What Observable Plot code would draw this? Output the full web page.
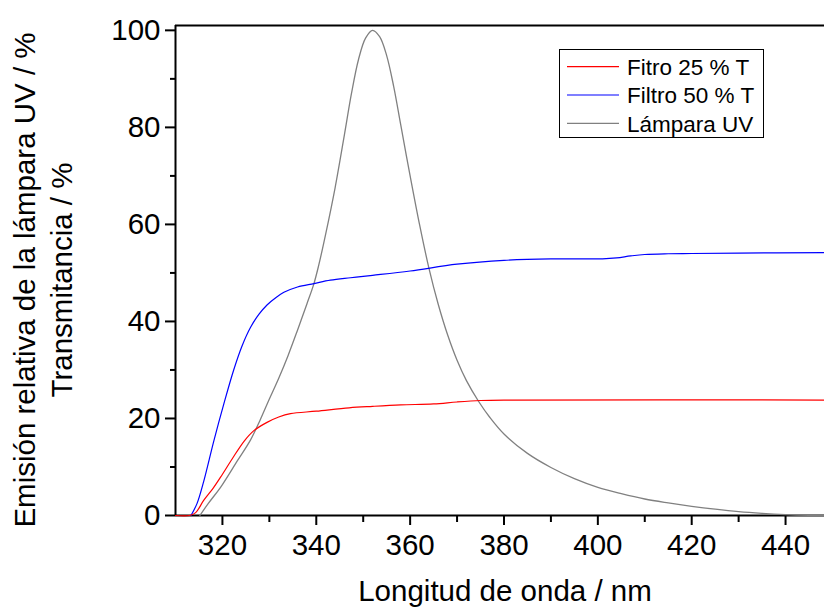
<!DOCTYPE html>
<html>
<head>
<meta charset="utf-8">
<script src="https://cdn.jsdelivr.net/npm/d3@7"></script>
<script src="https://cdn.jsdelivr.net/npm/@observablehq/plot@0.6"></script>
<style>
  html, body { margin: 0; padding: 0; background: #fff; }
  #chart svg { display: block; }
</style>
</head>
<body>
<div id="chart"></div>
<script>
// Wavelength (nm) / value (%) pairs
const redX  = [310, 313, 314.3, 316, 318, 319.6, 322.1, 324.6, 326.7, 329.5, 332, 334.5, 340, 347, 352, 358, 365, 370, 375, 380, 448.3];
const redY  = [0, 0, 0.6, 3.1, 5.6, 7.9, 11.7, 15.3, 17.5, 19.2, 20.3, 21, 21.5, 22.2, 22.5, 22.8, 23, 23.4, 23.7, 23.8, 23.8];

const blueX = [313.3, 314.6, 316, 318.2, 320.3, 322.4, 324.2, 326, 327.8, 329.5, 331.5, 333.1, 336, 339.5, 343, 347.3, 352, 360, 370, 380, 390, 401, 404, 407, 410, 415, 420, 430, 448.3];
const blueY = [0, 2.5, 7, 15.5, 23, 30, 35, 38.8, 41.5, 43.4, 45, 46, 47.1, 47.8, 48.5, 49, 49.5, 50.4, 51.8, 52.6, 52.9, 52.9, 53.1, 53.5, 53.8, 53.95, 54, 54.1, 54.2];

const grayX = [315.2, 317, 319.6, 323.2, 326, 328, 330, 332, 334, 336, 338, 339.5, 340.5, 342, 344, 346, 347.5, 349, 350.5, 352, 353.5, 355, 356.5, 358, 360, 362, 364, 366, 368, 370, 372, 374.6, 377, 380, 385, 390, 395, 400, 405, 410, 415, 420, 425, 430, 435, 440, 445, 448.3];
const grayY = [0, 2.5, 5.8, 11.3, 15.6, 19.6, 24, 28.3, 33, 38.2, 43.6, 47.8, 51.5, 58, 67.5, 78.5, 87, 94, 98.4, 100, 98.7, 94.8, 88.4, 80.5, 70, 60, 51, 43.5, 37.2, 32, 27.8, 23.5, 20.2, 16.8, 12.8, 9.9, 7.6, 5.8, 4.5, 3.4, 2.6, 1.9, 1.3, 0.8, 0.45, 0.2, 0.05, 0];

const seriesNames = ["Fitro 25 % T", "Filtro 50 % T", "Lámpara UV"];
const seriesColors = ["#ff0000", "#0000ff", "#808080"];

const xMajorTicks = [320, 340, 360, 380, 400, 420, 440];
const xMinorTicks = [330, 350, 370, 390, 410, 430];
const yMajorTicks = [0, 20, 40, 60, 80, 100];
const yMinorTicks = [10, 30, 50, 70, 90];

const xTitle = "Longitud de onda / nm";
const yTitle1 = "Emisión relativa de la lámpara UV / %";
const yTitle2 = "Transmitancia / %";

const toRows = (xs, ys) => xs.map((x, i) => ({x, y: ys[i]}));
const red = toRows(redX, redY);
const blue = toRows(blueX, blueY);
const gray = toRows(grayX, grayY);

const font = "'Liberation Sans', Arial, Helvetica, sans-serif";

const plot = Plot.plot({
  width: 824,
  height: 608,
  marginLeft: 175,
  marginRight: 0,
  marginTop: 25,
  marginBottom: 93,
  style: {fontFamily: font, background: "#fff", color: "#000", overflow: "visible"},
  x: {domain: [310, 448.3]},
  y: {domain: [0, 101]},
  marks: [
    Plot.ruleY([0], {stroke: "#000", strokeWidth: 2}),
    Plot.ruleX([310], {stroke: "#000", strokeWidth: 2}),
    Plot.ruleY([101], {stroke: "#000", strokeWidth: 2}),
    Plot.axisX({ticks: xMajorTicks, tickSize: 10, tickPadding: 9, fontSize: 29.5, strokeWidth: 2, label: null, tickFormat: d => String(d)}),
    Plot.axisX({ticks: xMinorTicks, tickSize: 7, strokeWidth: 2, text: null, label: null}),
    Plot.axisY({ticks: yMajorTicks, tickSize: 10, tickPadding: 5, fontSize: 29.5, strokeWidth: 2, label: null, tickFormat: d => String(d)}),
    Plot.axisY({ticks: yMinorTicks, tickSize: 5, strokeWidth: 2, text: null, label: null}),
    Plot.line(gray, {x: "x", y: "y", stroke: seriesColors[2], strokeWidth: 1.3, curve: "catmull-rom"}),
    Plot.line(blue, {x: "x", y: "y", stroke: seriesColors[1], strokeWidth: 1.2, curve: "catmull-rom"}),
    Plot.line(red, {x: "x", y: "y", stroke: seriesColors[0], strokeWidth: 1.2, curve: "catmull-rom"})
  ]
});

const svg = d3.select(plot);

// axis titles
svg.append("text")
  .attr("x", 505).attr("y", 601)
  .attr("text-anchor", "middle")
  .attr("font-family", font).attr("font-size", 29.5).attr("fill", "#000")
  .text(xTitle);

svg.append("text")
  .attr("transform", "translate(35,280) rotate(-90)")
  .attr("text-anchor", "middle")
  .attr("font-family", font).attr("font-size", 29.5).attr("fill", "#000")
  .text(yTitle1);

svg.append("text")
  .attr("transform", "translate(72,280) rotate(-90)")
  .attr("text-anchor", "middle")
  .attr("font-family", font).attr("font-size", 29.5).attr("fill", "#000")
  .text(yTitle2);

// legend
const lg = svg.append("g");
lg.append("rect")
  .attr("x", 559.5).attr("y", 49.5).attr("width", 204).attr("height", 88)
  .attr("fill", "#fff").attr("stroke", "#000").attr("stroke-width", 1);
seriesNames.forEach((name, i) => {
  const cy = 66.7 + i * 28.3;
  lg.append("line")
    .attr("x1", 567).attr("x2", 619).attr("y1", cy).attr("y2", cy)
    .attr("stroke", seriesColors[i]).attr("stroke-width", 1.2);
  lg.append("text")
    .attr("x", 627).attr("y", cy + 8.3)
    .attr("text-anchor", "start")
    .attr("font-family", font).attr("font-size", 22.5).attr("fill", "#000")
    .text(name);
});

document.getElementById("chart").appendChild(plot);
</script>
</body>
</html>
